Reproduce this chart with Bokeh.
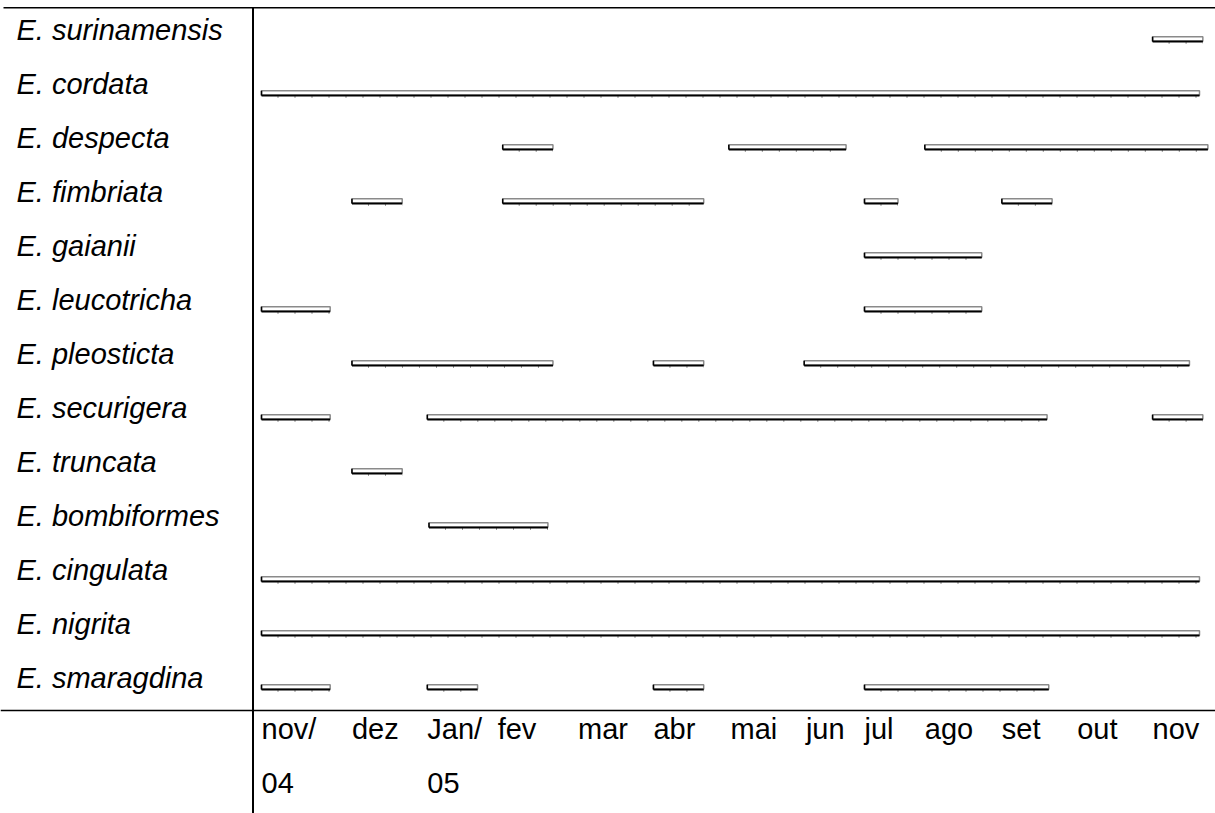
from bokeh.plotting import figure
from bokeh.models import Range1d, ColumnDataSource
from bokeh.core.properties import value
from bokeh.embed import file_html
from bokeh.resources import INLINE

# ---- data (x in weeks from start of nov/04, rows from top) ----
species = ["E. surinamensis", "E. cordata", "E. despecta", "E. fimbriata", "E. gaianii",
           "E. leucotricha", "E. pleosticta", "E. securigera", "E. truncata",
           "E. bombiformes", "E. cingulata", "E. nigrita", "E. smaragdina"]

bar_species = ["E. surinamensis",
               "E. cordata",
               "E. despecta", "E. despecta", "E. despecta",
               "E. fimbriata", "E. fimbriata", "E. fimbriata", "E. fimbriata",
               "E. gaianii",
               "E. leucotricha", "E. leucotricha",
               "E. pleosticta", "E. pleosticta", "E. pleosticta",
               "E. securigera", "E. securigera", "E. securigera",
               "E. truncata",
               "E. bombiformes",
               "E. cingulata",
               "E. nigrita",
               "E. smaragdina", "E. smaragdina", "E. smaragdina", "E. smaragdina"]
bar_start = [53.2,
             0.0,
             14.4, 27.9, 39.6,
             5.4, 14.4, 36.0, 44.2,
             36.0,
             0.0, 36.0,
             5.4, 23.4, 32.4,
             0.0, 9.9, 53.2,
             5.4,
             10.0,
             0.0,
             0.0,
             0.0, 9.9, 23.4, 36.0]
bar_end = [56.2,
           56.0,
           17.4, 34.9, 56.5,
           8.4, 26.4, 38.0, 47.2,
           43.0,
           4.1, 43.0,
           17.4, 26.4, 55.4,
           4.1, 46.9, 56.2,
           8.4,
           17.1,
           56.0,
           56.0,
           4.1, 12.9, 26.4, 47.0]

months = ["nov/", "dez", "Jan/", "fev", "mar", "abr", "mai", "jun", "jul", "ago", "set", "out", "nov"]
month_pos = [0.0, 5.4, 9.9, 14.1, 18.9, 23.4, 28.0, 32.5, 36.0, 39.6, 44.2, 48.7, 53.2]
years = ["04", "05"]
year_pos = [0.0, 9.9]

# ---- layout ----
W, H = 1215, 813
PXX = 16.75   # px per week
PXY = 54.0    # px per row
x0 = -261.0 / PXX
y0 = -39.0 / PXY
xr = Range1d(x0, x0 + W / PXX)
yr = Range1d(y0 + H / PXY, y0)

def X(px):
    return x0 + px / PXX

def Y(px):
    return y0 + px / PXY

p = figure(width=W, height=H, x_range=xr, y_range=yr, output_backend="svg",
           toolbar_location=None, x_axis_location=None, y_axis_location=None,
           min_border=0, min_border_left=0, min_border_right=0,
           min_border_top=0, min_border_bottom=0)
p.grid.visible = False
p.outline_line_color = None
p.background_fill_color = "white"
p.border_fill_color = "white"

row_of = {s: i for i, s in enumerate(species)}
rows = [row_of[s] for s in bar_species]

def dy(px):
    return px / PXY

src = ColumnDataSource(dict(
    left=bar_start, right=bar_end,
    top=[r - dy(2.8) for r in rows], bottom=[r + dy(1.8) for r in rows],
    yb=[r + dy(2.0) for r in rows], yt=[r + dy(3.4) for r in rows],
    ya=[r - dy(2.8) for r in rows],
))

p.quad(left="left", right="right", top="top", bottom="bottom", source=src,
       fill_color="white", line_color="#8a8a8a", line_width=1.5)
p.segment(x0="left", x1="right", y0="yb", y1="yb", source=src,
          line_color="black", line_width=1.8)
p.segment(x0="left", x1="left", y0="ya", y1="yb", source=src,
          line_color="black", line_width=1.5)
p.segment(x0="left", x1="right", y0="yt", y1="yt", source=src,
          line_color="#333333", line_width=1.2, line_dash="1 16", line_dash_offset=-16)

# species labels
p.text(x=[X(16)] * len(species), y=[i - dy(9.5) for i in range(len(species))],
       text=species, text_font=value("Liberation Sans"), text_font_style="italic",
       text_font_size=value("29px"), text_color="black", text_baseline="alphabetic")

# month labels
p.text(x=month_pos, y=[Y(728)] * len(months), text=months,
       text_font=value("Liberation Sans"), text_font_size=value("29px"),
       text_color="black", text_baseline="alphabetic")
p.text(x=year_pos, y=[Y(782)] * len(years), text=years,
       text_font=value("Liberation Sans"), text_font_size=value("29px"),
       text_color="black", text_baseline="alphabetic")

# table rules
xmin, xmax = X(0), X(W)
p.segment(x0=[X(3), xmin], x1=[xmax, xmax], y0=[Y(7.3), Y(710)], y1=[Y(7.3), Y(710)],
          line_color="black", line_width=1.6)
p.segment(x0=[X(252.5)], x1=[X(252.5)], y0=[Y(7)], y1=[Y(H)], line_color="black", line_width=2)

open("out.html", "w").write(file_html(p, INLINE))
